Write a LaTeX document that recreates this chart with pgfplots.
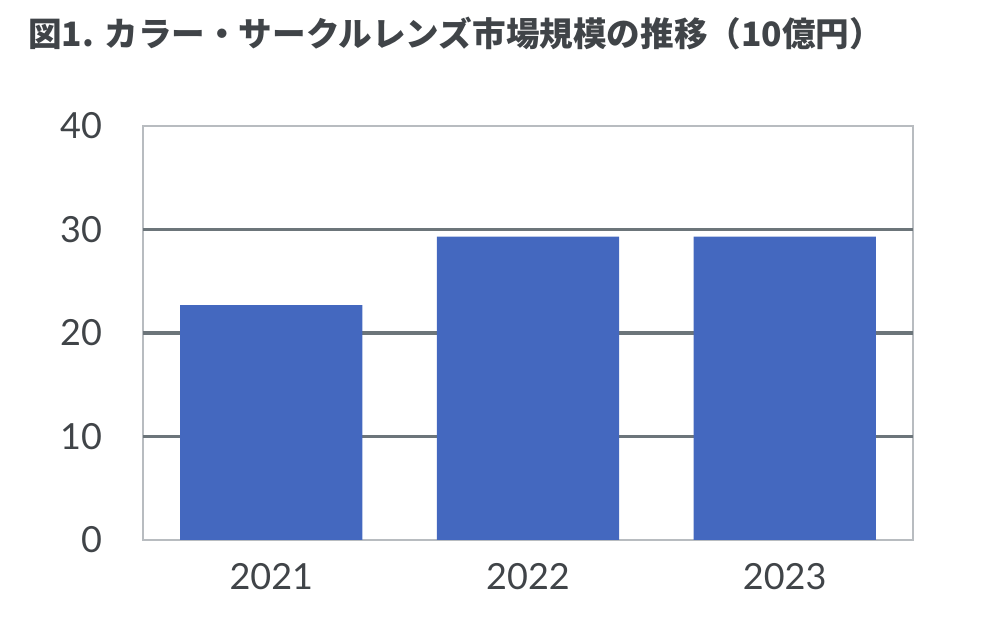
\documentclass[border=0pt]{standalone}
\usepackage{pgfplots}
\pgfplotsset{compat=1.18}
\usepackage{fontspec}
\setmainfont{Lato}
\newfontfamily\cjk{Noto Sans CJK JP}
\definecolor{barblue}{HTML}{4468BF}
\definecolor{gridgray}{HTML}{6C757A}
\definecolor{framegray}{HTML}{B8BCC0}
\definecolor{txt}{HTML}{404448}

\pgfplotstableread{
x year value
0 2021 22.7
1 2022 29.3
2 2023 29.3
}\marketdata

\begin{document}
\begin{tikzpicture}
\useasboundingbox (-71.5pt,-43pt) rectangle (428.5pt,270pt);
\node[anchor=base west, inner sep=0pt, text=txt, font=\cjk\bfseries\fontsize{16.8pt}{19pt}\selectfont]
  at (-57.5pt,246.5pt) {図1. カラー・サークルレンズ市場規模の推移（10億円）};
\begin{axis}[
  scale only axis,
  width=385pt, height=207pt,
  xmin=-0.5, xmax=2.5,
  ymin=0, ymax=40,
  xtick=data,
  xticklabels={2021,2022,2023},
  ytick={0,10,...,40},
  extra y ticks={10,20,30},
  extra y tick labels={},
  extra y tick style={grid=major, major tick length=0pt},
  major grid style={line width=1.6pt, color=gridgray},
  major tick length=0pt,
  axis line style={line width=1pt, color=framegray},
  tick label style={text=txt, font=\fontsize{18pt}{21pt}\selectfont},
  /pgf/number format/assume math mode=true,
  yticklabel style={xshift=-17pt},
  xticklabel style={yshift=-8pt},
  ybar,
  bar width=0.71,
]
\addplot[fill=barblue, draw=none] table[x=x, y=value] {\marketdata};
\end{axis}
\end{tikzpicture}
\end{document}
